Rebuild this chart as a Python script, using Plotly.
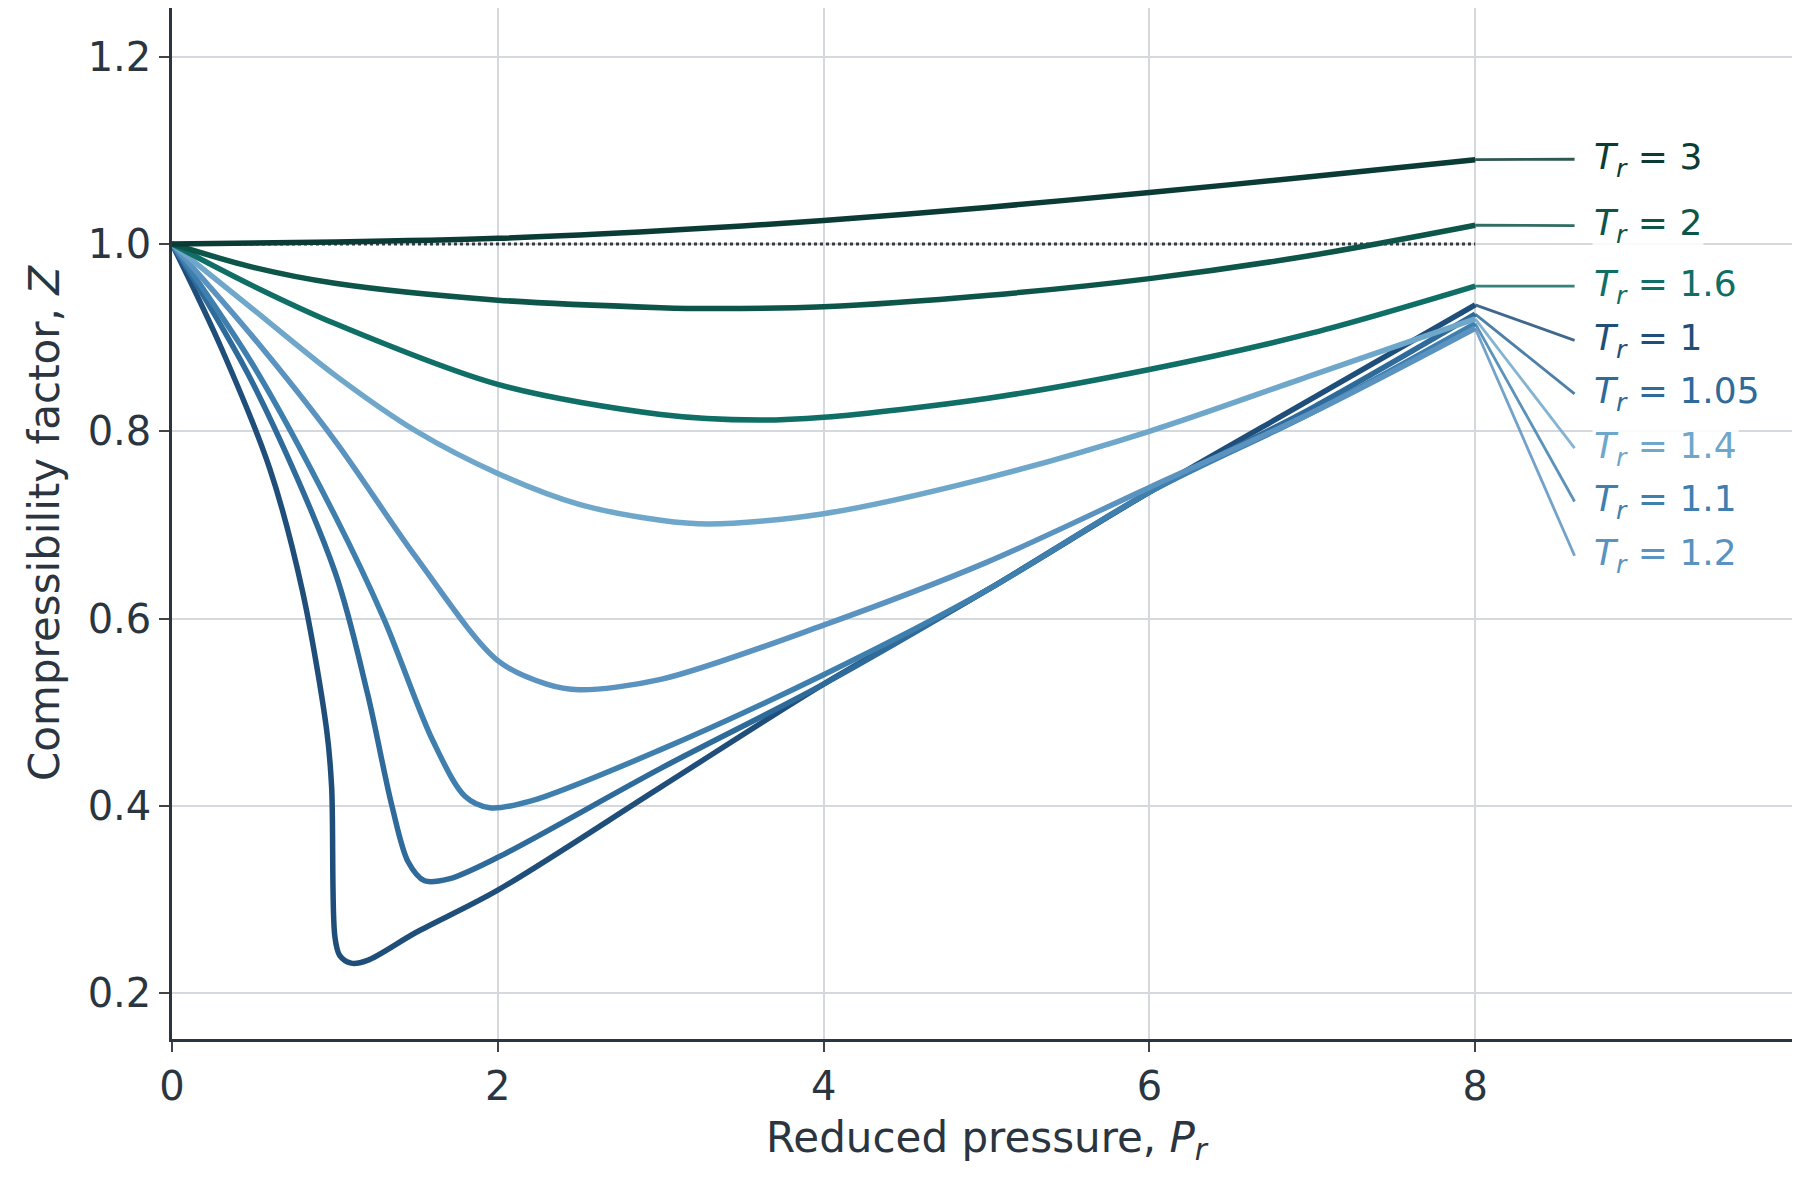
import plotly.graph_objects as go

pr_3 = [0, 1, 2, 3, 4, 5, 6, 7, 8]
z_3 = [1.0, 1.002, 1.006, 1.014, 1.025, 1.039, 1.055, 1.072, 1.09]
pr_2 = [0, 0.5, 1, 2, 3, 3.3, 4, 5, 6, 7, 8]
z_2 = [1.0, 0.975, 0.958, 0.94, 0.932, 0.931, 0.933, 0.945, 0.963, 0.988, 1.02]
pr_16 = [0, 0.5, 1, 2, 3, 3.6, 4, 5, 6, 7, 8]
z_16 = [1.0, 0.955, 0.915, 0.85, 0.818, 0.812, 0.815, 0.835, 0.866, 0.905, 0.955]
pr_14 = [0, 0.5, 1, 1.5, 2, 2.5, 3, 3.3, 4, 5, 6, 7, 8]
z_14 = [1.0, 0.93, 0.86, 0.80, 0.755, 0.722, 0.705, 0.701, 0.712, 0.75, 0.80, 0.86, 0.92]
pr_12 = [0, 0.5, 1, 1.5, 2, 2.3, 2.5, 3, 4, 5, 6, 7, 8]
z_12 = [1.0, 0.90, 0.79, 0.665, 0.555, 0.53, 0.524, 0.535, 0.593, 0.66, 0.74, 0.82, 0.91]
pr_11 = [0, 0.5, 1, 1.3, 1.6, 1.8, 1.95, 2.2, 3, 4, 5, 6, 7, 8]
z_11 = [1.0, 0.87, 0.71, 0.60, 0.47, 0.41, 0.398, 0.405, 0.46, 0.54, 0.63, 0.735, 0.82, 0.915]
pr_105 = [0, 0.5, 1, 1.2, 1.35, 1.45, 1.55, 1.7, 2, 3, 4, 5, 6, 7, 8]
z_105 = [1.0, 0.85, 0.65, 0.52, 0.40, 0.34, 0.32, 0.322, 0.345, 0.44, 0.53, 0.63, 0.735, 0.825, 0.925]
pr_1 = [0, 0.3, 0.6, 0.8, 0.95, 0.98, 1.0, 1.03, 1.1, 1.2, 1.5, 2, 3, 4, 5, 6, 7, 8]
z_1 = [1.0, 0.89, 0.76, 0.63, 0.48, 0.42, 0.26, 0.24, 0.232, 0.235, 0.265, 0.31, 0.42, 0.53, 0.63, 0.735, 0.835, 0.935]

series = [
    ("3", pr_3, z_3, "#0b3b35", 1.0905),
    ("2", pr_2, z_2, "#0d5449", 1.0196),
    ("1.6", pr_16, z_16, "#0f6e66", 0.955),
    ("1", pr_1, z_1, "#1f4e7a", 0.897),
    ("1.05", pr_105, z_105, "#2e6a9a", 0.840),
    ("1.4", pr_14, z_14, "#6fa7cb", 0.782),
    ("1.1", pr_11, z_11, "#3f7fae", 0.725),
    ("1.2", pr_12, z_12, "#5a92c0", 0.667),
]
draw_order = ["1", "1.05", "1.1", "1.2", "1.4", "1.6", "2", "3"]

fig = go.Figure()
fig.add_trace(go.Scatter(x=[0, 8], y=[1, 1], mode="lines",
                         line=dict(color="#333a40", width=3, dash="dot"), showlegend=False))
lookup = {s[0]: s for s in series}
for name in draw_order:
    n, xs, ys, c, ly = lookup[name]
    fig.add_trace(go.Scatter(x=xs, y=ys, mode="lines",
                             line=dict(color=c, width=5.5, shape="spline", smoothing=0.9),
                             showlegend=False))
for n, xs, ys, c, ly in series:
    fig.add_trace(go.Scatter(x=[8, 8.61], y=[ys[-1], ly], mode="lines",
                             line=dict(color=c, width=2.8), opacity=0.85, showlegend=False, cliponaxis=False))
    fig.add_annotation(x=8.72, y=ly, text=f"<i>T</i><sub><i>r</i></sub> = {n}", showarrow=False,
                       xanchor="left", yanchor="middle", font=dict(size=36, color=c),
                       bgcolor="rgba(255,255,255,0.85)")

fig.update_layout(
    width=1800, height=1177, plot_bgcolor="white", paper_bgcolor="white",
    margin=dict(l=164, r=7, t=0, b=146),
    font=dict(family="DejaVu Sans", color="#2a3540"),
)
fig.update_xaxes(range=[0, 10], tickvals=[0, 2, 4, 6, 8], showgrid=True, gridcolor="#d5d9de", gridwidth=1.5,
                 showline=True, linecolor="#2a3540", linewidth=2.5, ticks="outside", ticklen=10, tickwidth=2,
                 tickfont=dict(size=40), zeroline=False,
                 title=dict(text="Reduced pressure, <i>P</i><sub><i>r</i></sub>", font=dict(size=42)))
fig.update_yaxes(range=[0.151, 1.252], tickvals=[0.2, 0.4, 0.6, 0.8, 1.0, 1.2], ticktext=["0.2", "0.4", "0.6", "0.8", "1.0", "1.2"],
                 showgrid=True, gridcolor="#d5d9de", gridwidth=1.5,
                 showline=True, linecolor="#2a3540", linewidth=2.5, ticks="outside", ticklen=10, tickwidth=2,
                 tickfont=dict(size=40), zeroline=False,
                 title=dict(text="Compressibility factor, <i>Z</i>", font=dict(size=42)))
fig.write_html("out.html")
